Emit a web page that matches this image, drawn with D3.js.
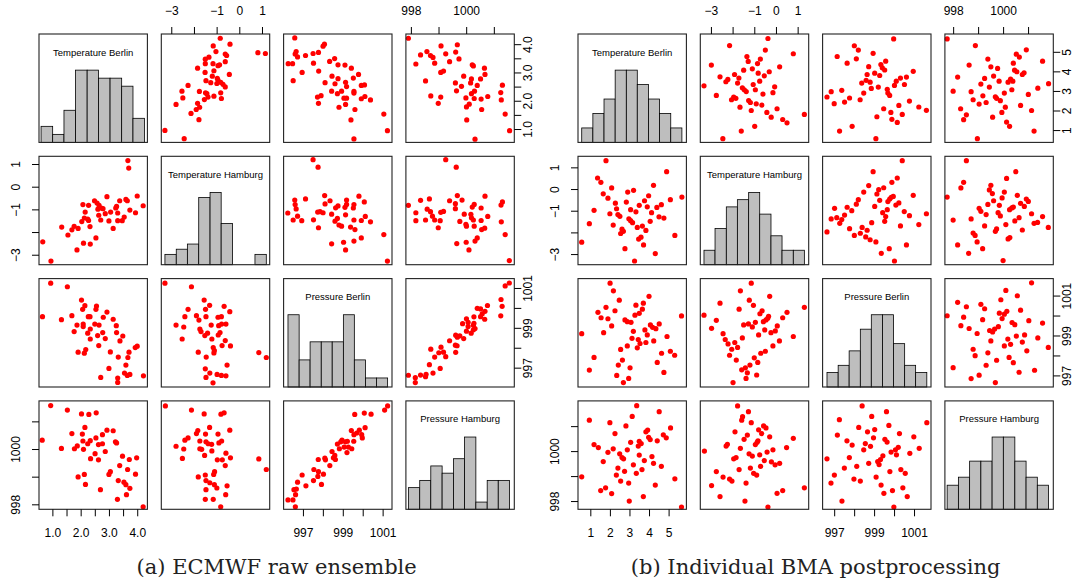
<!DOCTYPE html>
<html lang="en">
<head>
<meta charset="UTF-8">
<title>Scatterplot matrices: ECMWF raw ensemble vs BMA</title>
<style>
  body { margin: 0; background: #fff; }
  svg { display: block; }
</style>
</head>
<body>
<div id="chart"></div>
<script src="https://d3js.org/d3.v7.min.js"></script>
<script>
const W = 1085, H = 582;
const FONT = '"Liberation Sans", Arial, Helvetica, sans-serif';

const varNames = ["Temperature Berlin", "Temperature Hamburg", "Pressure Berlin", "Pressure Hamburg"];
const captions = ["(a) ECMWF raw ensemble", "(b) Individual BMA postprocessing"];

// axis limits of each variable (TB, TH, PB, PH)
const limitsA = [[0.527, 4.36], [-3.44, 1.34], [996.03, 1001.47], [997.82, 1001.74]];
const limitsB = [[0.37, 5.91], [-3.49, 1.51], [996.42, 1001.85], [997.67, 1002.01]];

// tick positions and their labels ("" = tick without label)
const ticksA = [[1, 1.5, 2, 2.5, 3, 3.5, 4], [-3, -2, -1, 0, 1], [997, 998, 999, 1000, 1001], [998, 999, 1000, 1001]];
const labelsA = [["1.0", "", "2.0", "", "3.0", "", "4.0"], ["−3", "", "−1", "0", "1"], ["997", "", "999", "", "1001"], ["998", "", "1000", ""]];
const ticksB = [[1, 2, 3, 4, 5], [-3, -2, -1, 0, 1], [997, 998, 999, 1000, 1001], [998, 999, 1000, 1001]];
const labelsB = [["1", "2", "3", "4", "5"], ["−3", "", "−1", "0", "1"], ["997", "", "999", "", "1001"], ["998", "", "1000", ""]];

// histogram breaks and counts on the diagonal
const breaksA_TB = [0.60, 1.01, 1.41, 1.82, 2.23, 2.63, 3.04, 3.45, 3.85, 4.26];
const countsA_TB = [2, 1, 4, 9, 9, 8, 8, 7, 3];
const breaksA_TH = [-3.28, -2.78, -2.29, -1.79, -1.29, -0.80, -0.30, 0.19, 0.69, 1.19];
const countsA_TH = [2, 3, 4, 13, 14, 8, 0, 0, 2];
const breaksA_PB = [996.25, 996.81, 997.36, 997.92, 998.47, 999.03, 999.58, 1000.14, 1000.69, 1001.25];
const countsA_PB = [8, 3, 5, 5, 5, 8, 3, 1, 1];
const breaksA_PH = [997.91, 998.32, 998.72, 999.13, 999.54, 999.94, 1000.35, 1000.76, 1001.16, 1001.57];
const countsA_PH = [3, 4, 6, 5, 7, 10, 1, 4, 4];

const breaksB_TB = [0.56, 1.13, 1.70, 2.27, 2.84, 3.40, 3.97, 4.54, 5.11, 5.68];
const countsB_TB = [2, 4, 6, 10, 10, 8, 6, 4, 2];
const breaksB_TH = [-3.32, -2.81, -2.29, -1.78, -1.26, -0.75, -0.23, 0.28, 0.80, 1.31];
const countsB_TH = [2, 5, 8, 9, 10, 7, 4, 2, 2];
const breaksB_PB = [996.64, 997.20, 997.75, 998.31, 998.86, 999.42, 999.97, 1000.53, 1001.08, 1001.64];
const countsB_PB = [2, 3, 5, 8, 10, 10, 6, 3, 2];
const breaksB_PH = [997.76, 998.21, 998.66, 999.11, 999.56, 1000.01, 1000.47, 1000.92, 1001.37, 1001.82];
const countsB_PH = [3, 4, 6, 6, 9, 9, 6, 4, 3];

// ensemble members, one [x, y] per member for each pair of variables
const A_TB_TH = [[3.67,1.15],[3.70,0.82],[0.66,-2.43],[0.95,-3.28],[1.33,-1.78],[1.55,-2.13],[1.69,-1.90],[1.77,-1.75],[1.91,-1.84],[1.87,-2.79],[2.10,-2.49],[2.34,-2.53],[2.54,-2.26],[2.33,-1.76],[2.04,-1.54],[2.08,-0.79],[2.16,-1.12],[2.13,-1.38],[2.28,-0.82],[2.28,-1.49],[2.49,-0.62],[2.58,-0.72],[2.65,-0.82],[2.61,-0.99],[2.73,-0.94],[2.79,-0.97],[2.64,-1.26],[2.71,-1.47],[2.87,-1.19],[2.93,-0.44],[3.00,-1.51],[3.06,-1.12],[3.15,-1.84],[3.24,-0.94],[3.27,-0.87],[3.31,-1.16],[3.31,-1.50],[3.38,-0.62],[3.47,-1.50],[3.54,-1.34],[3.60,-0.56],[3.65,-0.62],[3.74,-1.03],[3.94,-1.15],[4.00,-0.41],[4.21,-0.84],[2.25,-1.43]];
const A_TB_PB = [[0.94,1001.24],[1.53,1001.06],[0.65,999.56],[1.32,999.41],[1.69,999.61],[2.03,1000.39],[2.15,1000.11],[2.07,999.93],[1.87,999.14],[1.77,998.81],[2.09,999.19],[2.09,999.06],[2.27,999.56],[2.33,999.56],[2.34,998.94],[2.25,998.73],[2.34,998.44],[2.56,1000.09],[2.54,999.93],[2.50,999.19],[2.65,999.14],[2.60,998.61],[2.78,998.76],[2.80,999.53],[2.93,999.79],[2.87,998.46],[2.64,998.11],[2.18,997.91],[2.13,997.73],[1.91,997.78],[3.15,999.43],[3.26,999.11],[3.27,998.76],[3.49,998.59],[3.39,998.34],[3.05,997.79],[3.33,997.53],[3.71,997.78],[3.67,997.51],[3.93,998.01],[4.00,998.08],[3.60,997.13],[3.00,996.96],[2.71,996.51],[3.31,996.48],[3.55,996.73],[3.65,996.61],[3.74,996.66],[3.31,996.26],[4.22,996.59]];
const A_TB_PH = [[0.94,1001.57],[1.53,1001.41],[2.03,1001.27],[2.29,1001.25],[2.55,1001.31],[0.64,1000.32],[1.32,1000.02],[1.69,1000.56],[1.78,1000.01],[1.88,1000.11],[2.06,1000.54],[2.15,1000.78],[2.08,1000.29],[2.10,999.99],[2.25,1000.19],[2.34,1000.30],[2.35,999.65],[2.51,999.83],[2.54,1000.40],[2.63,1000.16],[2.77,1000.52],[2.77,1000.19],[2.63,999.61],[2.87,999.91],[2.93,1000.68],[3.15,1000.66],[3.23,1000.26],[3.27,1000.22],[3.38,999.40],[3.48,999.74],[3.72,999.62],[3.98,999.68],[3.05,999.18],[3.00,999.08],[3.33,998.86],[3.53,998.80],[3.60,998.71],[3.66,999.26],[3.74,998.58],[3.94,999.09],[3.62,998.35],[1.91,998.99],[2.13,999.08],[2.17,998.72],[2.70,998.53],[3.30,998.18],[4.21,997.91]];
const A_TH_PB = [[-3.28,1001.24],[-2.11,1001.06],[-1.55,1000.39],[-1.31,1000.13],[-1.49,999.93],[-2.26,999.93],[-2.40,999.56],[-1.89,999.61],[-1.78,999.39],[-1.47,999.56],[-0.67,1000.08],[-0.42,999.81],[-0.94,999.53],[-0.79,999.56],[-2.79,999.14],[-2.45,999.04],[-1.74,998.94],[-1.69,998.81],[-1.24,999.14],[-0.91,999.11],[-0.78,999.19],[-0.59,999.19],[-1.40,998.73],[-1.52,998.61],[-0.85,998.76],[-0.93,998.64],[-1.21,998.44],[-2.52,998.44],[-0.62,998.36],[-0.76,998.11],[-0.39,998.09],[-1.15,998.01],[-1.10,997.86],[-1.12,997.74],[-1.81,997.78],[-1.46,997.53],[-0.54,997.13],[-1.50,996.94],[-1.30,996.73],[-1.47,996.51],[-0.98,996.66],[-0.79,996.61],[-0.59,996.59],[-1.16,996.24],[0.86,997.76],[1.19,997.51]];
const A_TH_PH = [[-3.26,1001.56],[-2.11,1001.41],[-1.55,1001.27],[-0.81,1001.26],[-0.67,1001.31],[-1.31,1000.78],[-1.83,1000.67],[-1.89,1000.56],[-1.49,1000.54],[-0.94,1000.54],[-0.42,1000.68],[-2.40,1000.32],[-2.26,1000.40],[-1.74,1000.29],[-1.47,1000.26],[-1.37,1000.19],[-1.22,1000.17],[-0.90,1000.22],[-0.78,1000.29],[-2.79,1000.10],[-2.45,1000.00],[-1.74,1000.01],[-1.66,999.99],[-1.21,999.93],[-1.53,999.77],[-0.59,999.85],[-0.39,999.68],[-2.51,999.66],[-0.97,999.61],[-0.75,999.61],[-0.62,999.40],[-1.09,999.18],[-1.13,999.08],[-1.50,999.06],[-1.81,998.99],[-1.47,998.86],[-1.30,998.78],[-1.10,998.71],[-0.99,998.59],[-0.54,998.67],[-1.47,998.53],[-0.60,998.35],[-1.50,998.18],[-1.15,998.18],[-0.82,997.91],[0.86,999.64],[1.19,999.26]];
const A_PB_PH = [[996.25,998.16],[996.50,998.16],[996.62,997.91],[996.55,998.53],[996.67,998.55],[996.63,998.35],[996.73,998.80],[996.96,999.06],[997.15,998.67],[997.55,999.26],[997.53,998.86],[997.77,999.62],[997.78,999.18],[997.75,999.01],[997.93,998.72],[998.03,999.09],[998.10,999.67],[998.13,999.61],[998.35,999.40],[998.46,999.91],[998.53,999.68],[998.63,999.62],[998.60,999.77],[998.73,1000.18],[998.83,1000.01],[998.90,1000.26],[998.96,1000.32],[999.07,1000.07],[999.13,1000.26],[999.21,999.87],[999.23,1000.28],[999.28,1000.07],[999.45,1000.01],[999.43,1000.67],[999.56,1000.52],[999.55,1000.28],[999.60,1001.25],[999.70,1000.58],[999.83,1000.68],[999.95,1000.52],[999.98,1000.40],[1000.12,1000.77],[1000.08,1001.30],[1000.42,1001.26],[1001.10,1001.41],[1001.25,1001.56]];

const B_TB_TH = [[1.80,1.31],[0.56,-2.45],[0.95,-1.60],[1.19,-0.98],[1.37,0.51],[1.54,0.31],[1.66,-0.22],[1.90,-0.42],[2.09,0.05],[2.00,-1.14],[2.17,-1.66],[2.28,-0.65],[2.34,-0.91],[2.41,-1.18],[2.51,-1.26],[2.62,-1.85],[2.69,-1.95],[2.55,-2.05],[2.77,-2.75],[2.84,-0.60],[2.91,-0.14],[2.97,-1.37],[3.06,-0.95],[3.06,-1.46],[3.16,-1.55],[3.21,-0.06],[3.26,-3.32],[3.33,-1.05],[3.40,-1.77],[3.50,-0.75],[3.47,-2.31],[3.59,-2.22],[3.66,-1.71],[3.72,-2.58],[3.77,-0.54],[3.84,-1.91],[3.91,-0.82],[3.98,-0.31],[4.06,-1.49],[4.13,-1.09],[4.23,0.17],[4.32,-2.98],[4.40,-0.85],[4.51,-1.28],[4.63,-0.72],[4.76,-1.34],[4.90,0.80],[5.09,-0.49],[5.32,-2.14],[5.68,-0.37]];
const B_TB_PB = [[2.01,1001.62],[2.18,1001.24],[2.48,1000.77],[1.80,1000.41],[1.39,1000.16],[1.55,999.89],[1.90,999.84],[2.26,1000.24],[2.09,999.48],[1.68,999.14],[0.56,999.09],[2.77,999.78],[2.89,999.69],[3.08,999.66],[3.33,1000.52],[3.71,1000.62],[3.66,1000.32],[3.50,1000.11],[3.28,1000.02],[4.00,1000.96],[3.20,999.21],[3.13,998.86],[3.45,998.80],[3.54,998.60],[3.40,998.38],[2.89,998.48],[2.55,998.30],[3.79,999.28],[3.91,999.03],[3.84,998.65],[4.07,999.53],[4.18,999.41],[4.35,999.34],[4.52,999.58],[4.24,998.73],[4.92,998.95],[4.64,998.11],[5.09,998.21],[5.31,998.01],[4.42,997.65],[4.76,997.15],[5.66,999.98],[1.19,997.90],[0.95,997.27],[2.64,997.77],[2.43,997.52],[3.03,997.38],[2.35,997.00],[2.96,996.85],[2.69,996.64]];
const B_TB_PH = [[3.37,1001.82],[0.95,1001.24],[2.00,1001.14],[3.14,1001.39],[2.82,1001.01],[4.52,1001.58],[5.10,1000.93],[2.26,1000.70],[1.19,1000.26],[1.41,1000.14],[3.06,1000.35],[3.50,1000.39],[3.60,1000.30],[3.45,1000.20],[3.84,1000.77],[3.93,1000.84],[3.98,1000.55],[4.06,1000.46],[4.42,1000.41],[4.73,1000.65],[4.88,1000.53],[2.17,1000.09],[1.90,999.95],[2.50,999.89],[2.62,999.74],[2.70,999.69],[2.89,1000.05],[3.50,999.84],[3.76,999.62],[4.15,999.78],[4.23,999.51],[4.63,999.39],[1.66,999.58],[2.41,999.32],[3.20,999.45],[2.33,999.04],[2.75,999.19],[3.35,999.11],[3.64,999.26],[2.55,998.80],[2.96,998.72],[4.32,998.64],[5.32,998.89],[0.56,998.97],[1.53,998.42],[1.78,998.53],[2.09,998.30],[2.99,998.00],[3.71,998.18],[5.66,997.76]];
const B_TH_PB = [[-3.32,1000.02],[-2.97,999.36],[-2.75,999.76],[-2.58,1000.62],[-2.44,999.09],[-2.34,998.80],[-2.21,998.58],[-2.04,998.31],[-2.14,998.01],[-1.90,998.65],[-1.77,998.40],[-1.83,997.77],[-1.55,998.88],[-1.70,1000.32],[-1.64,1001.24],[-1.49,999.53],[-1.27,999.58],[-1.23,1000.77],[-1.14,1001.62],[-1.04,1000.51],[-1.09,999.43],[-0.95,999.66],[-0.80,999.03],[-0.74,1000.09],[-0.64,1000.24],[-0.58,999.69],[-0.52,999.28],[-0.46,999.78],[-0.38,999.86],[-0.34,999.96],[-0.29,1000.96],[-0.23,999.14],[-0.03,999.23],[0.06,999.48],[0.31,999.89],[0.51,1000.16],[-0.14,998.48],[0.16,998.73],[-0.49,998.21],[-0.70,998.11],[-1.00,997.88],[-0.84,997.65],[-1.20,997.52],[-1.41,997.38],[-1.58,997.28],[-1.32,997.13],[-1.38,996.85],[-0.89,997.02],[-1.98,996.64],[0.80,998.95],[1.31,1000.41]];
const B_TH_PH = [[-1.77,1001.81],[-1.27,1001.58],[-1.54,1001.38],[-1.58,1001.24],[-1.14,1001.14],[-1.89,1000.77],[-0.80,1000.85],[-0.66,1000.70],[-0.57,1001.01],[-0.46,1000.93],[-0.29,1000.57],[-1.32,1000.64],[-1.47,1000.47],[-0.95,1000.26],[-0.87,1000.35],[-0.83,1000.41],[-2.24,1000.27],[-2.30,1000.20],[-1.64,1000.11],[-3.30,1000.00],[-1.95,999.69],[-1.84,999.74],[-1.24,999.89],[-1.09,999.80],[-0.75,999.85],[-0.41,999.96],[-0.14,1000.05],[0.49,1000.14],[0.80,1000.51],[-0.54,999.62],[-0.21,999.57],[-0.04,999.45],[0.17,999.51],[-0.71,999.39],[-1.18,999.32],[-1.70,999.26],[-1.03,999.11],[-0.89,999.04],[-2.75,999.18],[-2.44,998.96],[-2.14,998.88],[-2.03,998.80],[-1.38,998.72],[-2.97,998.62],[-2.58,998.18],[-1.43,998.00],[-0.37,997.76],[0.05,998.31],[0.31,998.42],[1.31,998.53]];
const B_PB_PH = [[998.40,1001.81],[999.62,1001.58],[998.88,1001.39],[997.26,1001.26],[998.23,1000.95],[999.74,1001.03],[999.03,1000.86],[998.67,1000.77],[997.16,1000.64],[998.97,1000.53],[1000.27,1000.70],[1000.99,1000.57],[997.64,1000.41],[997.90,1000.24],[998.56,1000.30],[998.82,1000.19],[998.48,1000.05],[999.54,1000.47],[999.65,1000.36],[1000.21,1000.15],[1000.07,1000.05],[999.85,999.96],[1000.12,999.85],[1001.26,1000.11],[1000.79,999.91],[1001.64,1001.14],[996.64,999.69],[997.76,999.74],[999.44,999.81],[999.32,999.66],[999.18,999.58],[999.25,999.46],[998.73,999.51],[998.13,999.39],[997.51,999.32],[999.79,999.18],[1000.34,999.26],[1000.56,999.11],[997.01,999.04],[996.84,998.72],[997.99,998.88],[998.31,998.80],[999.10,998.96],[999.35,998.64],[999.49,998.31],[999.92,998.42],[1000.44,998.53],[1000.66,998.18],[997.39,998.00],[999.99,997.76]];

const SIZE = 108.4;   // panel side in px
const STEP = 122.3;   // distance between panel origins
const TOP = 34;

const svg = d3.select("#chart").append("svg")
  .attr("width", W).attr("height", H)
  .attr("font-family", FONT);

// style an axis group like base R: no axis line, 12px labels, rotated labels on the sides
function finishAxis(ax, offset) {
  ax.select(".domain").remove();
  ax.attr("font-size", 12).attr("font-family", FONT);
  ax.selectAll(".tick line").attr("stroke", "#000");
  ax.selectAll(".tick text").attr("fill", "#000");
  if (offset) {
    ax.selectAll(".tick text")
      .attr("x", 0).attr("dy", "0.35em")
      .attr("text-anchor", "middle")
      .attr("transform", `translate(${offset},0) rotate(-90)`);
  }
}

function drawMatrix(left, limits, ticks, labels, pairs, breaks, counts, caption) {
  const root = svg.append("g").attr("transform", `translate(${left},${TOP})`);
  const xs = limits.map(l => d3.scaleLinear().domain(l).range([0, SIZE]));
  const ys = limits.map(l => d3.scaleLinear().domain(l).range([SIZE, 0]));

  for (let r = 0; r < 4; r++) {
    for (let c = 0; c < 4; c++) {
      const g = root.append("g").attr("transform", `translate(${c * STEP},${r * STEP})`);

      if (r === c) {
        const maxC = d3.max(counts[r]);
        const hy = d3.scaleLinear().domain([0, maxC * 1.5]).range([SIZE, 0]);
        const bins = counts[r].map((n, k) => ({ x0: breaks[r][k], x1: breaks[r][k + 1], n }));
        g.selectAll("rect.bar").data(bins).join("rect")
          .attr("class", "bar")
          .attr("x", d => xs[r](d.x0))
          .attr("width", d => xs[r](d.x1) - xs[r](d.x0))
          .attr("y", d => hy(d.n))
          .attr("height", d => SIZE - hy(d.n))
          .attr("fill", "#bebebe")
          .attr("stroke", "#000")
          .attr("stroke-width", 0.8);
        g.append("text")
          .attr("x", SIZE / 2).attr("y", 21.5)
          .attr("text-anchor", "middle")
          .attr("font-size", 9.5)
          .text(varNames[r]);
      } else {
        const i = Math.min(r, c), j = Math.max(r, c);
        const pts = pairs[i + "" + j];
        const lower = r > c;
        g.selectAll("circle").data(pts).join("circle")
          .attr("cx", d => xs[c](lower ? d[0] : d[1]))
          .attr("cy", d => ys[r](lower ? d[1] : d[0]))
          .attr("r", 2.6)
          .attr("fill", "#ff0000");
      }

      g.append("rect")
        .attr("width", SIZE).attr("height", SIZE)
        .attr("fill", "none").attr("stroke", "#222").attr("stroke-width", 1.1);

      if (r === 3 && c % 2 === 0) {
        finishAxis(g.append("g").attr("transform", `translate(0,${SIZE})`)
          .call(d3.axisBottom(xs[c]).tickValues(ticks[c]).tickFormat((d, k) => labels[c][k]).tickSize(7).tickPadding(12)), 0);
      }
      if (r === 0 && c % 2 === 1) {
        finishAxis(g.append("g")
          .call(d3.axisTop(xs[c]).tickValues(ticks[c]).tickFormat((d, k) => labels[c][k]).tickSize(7).tickPadding(12)), 0);
      }
      if (c === 0 && r % 2 === 1) {
        finishAxis(g.append("g")
          .call(d3.axisLeft(ys[r]).tickValues(ticks[r]).tickFormat((d, k) => labels[r][k]).tickSize(7)), -23.5);
      }
      if (c === 3 && r % 2 === 0) {
        finishAxis(g.append("g").attr("transform", `translate(${SIZE},0)`)
          .call(d3.axisRight(ys[r]).tickValues(ticks[r]).tickFormat((d, k) => labels[r][k]).tickSize(7)), 13);
      }
    }
  }

  svg.append("text")
    .attr("x", left + (3 * STEP + SIZE) / 2).attr("y", 574)
    .attr("text-anchor", "middle")
    .attr("font-family", '"DejaVu Serif", "Liberation Serif", serif')
    .attr("font-size", 21)
    .attr("fill", "#222")
    .text(caption);
}

drawMatrix(39, limitsA, ticksA, labelsA,
  { "01": A_TB_TH, "02": A_TB_PB, "03": A_TB_PH, "12": A_TH_PB, "13": A_TH_PH, "23": A_PB_PH },
  [breaksA_TB, breaksA_TH, breaksA_PB, breaksA_PH],
  [countsA_TB, countsA_TH, countsA_PB, countsA_PH],
  captions[0]);

drawMatrix(578, limitsB, ticksB, labelsB,
  { "01": B_TB_TH, "02": B_TB_PB, "03": B_TB_PH, "12": B_TH_PB, "13": B_TH_PH, "23": B_PB_PH },
  [breaksB_TB, breaksB_TH, breaksB_PB, breaksB_PH],
  [countsB_TB, countsB_TH, countsB_PB, countsB_PH],
  captions[1]);
</script>
</body>
</html>
